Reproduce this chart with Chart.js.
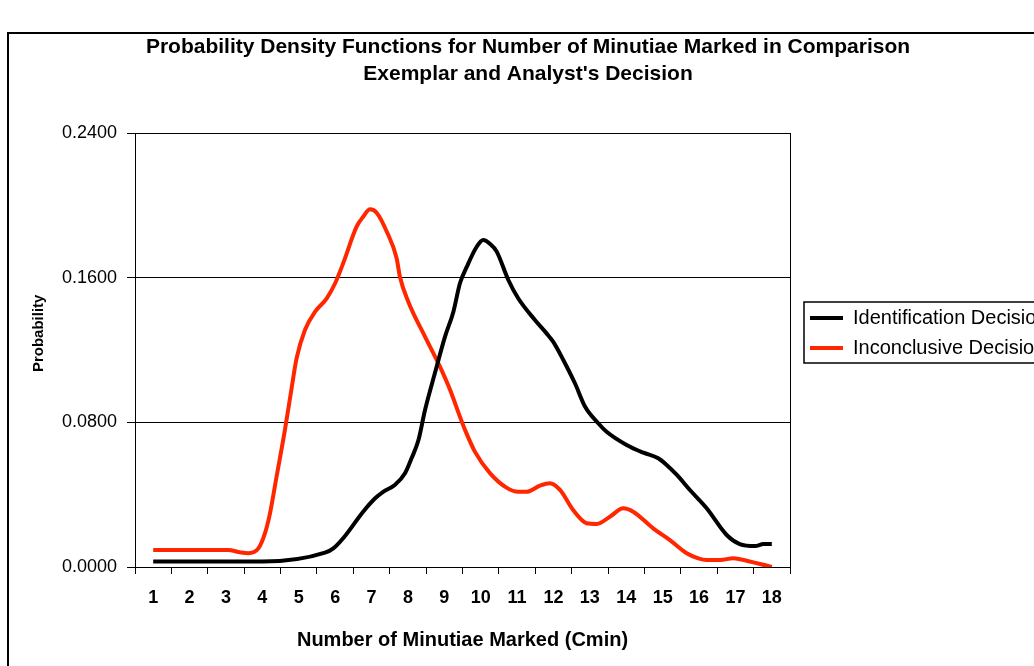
<!DOCTYPE html>
<html>
<head>
<meta charset="utf-8">
<script src="https://cdn.jsdelivr.net/npm/chart.js@4"></script>
<style>
  html, body { margin: 0; padding: 0; background: #fff; overflow: hidden; width: 1034px; height: 666px; }
  #frame { position: absolute; left: 7px; top: 32px; width: 1100px; height: 700px; border: 2px solid #000; box-sizing: border-box; }
  #wrap { position: absolute; left: 0; top: 0; width: 1040px; height: 666px; z-index: 2; }
</style>
</head>
<body>
<div id="frame"></div>
<div id="wrap"><canvas id="c"></canvas></div>
<script>
// Category tick labels on the x axis
const xCategories = [1, 2, 3, 4, 5, 6, 7, 8, 9, 10, 11, 12, 13, 14, 15, 16, 17, 18];
// Y axis ticks
const yTicks = [0, 0.08, 0.16, 0.24];

// Identification Decision curve
const identX = [1, 4, 5.72, 5.95, 6.22, 6.77, 7.10, 7.32, 7.64, 7.92, 8.10, 8.29, 8.47, 8.74, 9.02, 9.25, 9.43, 9.62, 9.89, 10.07, 10.26, 10.44, 10.76, 11.03, 11.49, 11.81, 11.99, 12.27, 12.59, 12.87, 13.23, 13.46, 14.01, 14.47, 14.88, 15.11, 15.39, 15.75, 16.21, 16.76, 17.12, 17.54, 17.77, 18.0];
const identY = [0.003, 0.003, 0.0079, 0.0103, 0.0159, 0.0306, 0.038, 0.0416, 0.0453, 0.0518, 0.0601, 0.0702, 0.0868, 0.1071, 0.1274, 0.1412, 0.1569, 0.1661, 0.1771, 0.1808, 0.1786, 0.1744, 0.1587, 0.1486, 0.1366, 0.1292, 0.1246, 0.1145, 0.1016, 0.0886, 0.0795, 0.0748, 0.0675, 0.0632, 0.0601, 0.0564, 0.0509, 0.0426, 0.0325, 0.0177, 0.0127, 0.0116, 0.0127, 0.0127];

// Inconclusive Decision curve
const inconX = [1, 3.06, 3.39, 3.61, 3.89, 4.07, 4.21, 4.39, 4.62, 4.81, 4.94, 5.17, 5.45, 5.77, 6.0, 6.22, 6.59, 6.77, 6.96, 7.14, 7.42, 7.69, 7.78, 8.01, 8.47, 8.88, 9.16, 9.43, 9.57, 9.84, 10.26, 10.71, 11.03, 11.26, 11.63, 11.9, 12.18, 12.54, 12.91, 13.19, 13.55, 13.92, 14.19, 14.74, 15.2, 15.66, 15.98, 16.21, 16.58, 16.94, 17.12, 18.0];
const inconY = [0.0094, 0.0094, 0.0081, 0.0076, 0.0103, 0.0186, 0.0297, 0.0499, 0.0758, 0.0997, 0.1154, 0.1311, 0.1412, 0.1486, 0.1569, 0.1679, 0.1882, 0.1937, 0.1978, 0.1959, 0.1854, 0.1707, 0.1605, 0.1467, 0.1274, 0.1108, 0.0979, 0.0831, 0.0758, 0.0638, 0.0518, 0.0439, 0.0416, 0.0416, 0.045, 0.0463, 0.0426, 0.0315, 0.0242, 0.0238, 0.0278, 0.0325, 0.0306, 0.0214, 0.0149, 0.0076, 0.0048, 0.0039, 0.0039, 0.0048, 0.0043, 0.0];

const seriesNames = ['Identification Decision', 'Inconclusive Decision'];

const FONT = '"Liberation Sans", Arial, sans-serif';
Chart.defaults.color = '#000';
Chart.defaults.font.family = FONT;

const toPoints = (xs, ys) => xs.map((x, i) => ({ x: x, y: ys[i] }));

const legendBox = {
  id: 'legendBox',
  afterDraw(chart) {
    const lg = chart.legend;
    if (!lg || !lg.legendHitBoxes || !lg.legendHitBoxes.length) return;
    const hb = lg.legendHitBoxes;
    const first = hb[0], last = hb[hb.length - 1];
    const ctx = chart.ctx;
    ctx.save();
    ctx.strokeStyle = '#000';
    ctx.lineWidth = 1.5;
    const l = first.left - 6, t = first.top - 6, b = last.top + last.height + 5;
    ctx.strokeRect(l, t, chart.width + 50 - l, b - t);
    ctx.restore();
  }
};

new Chart(document.getElementById('c'), {
  type: 'line',
  data: {
    datasets: [
      { label: seriesNames[0], data: toPoints(identX, identY), borderColor: '#000000', backgroundColor: '#000000', borderWidth: 4, pointRadius: 0, cubicInterpolationMode: 'monotone', fill: false },
      { label: seriesNames[1], data: toPoints(inconX, inconY), borderColor: '#FF2600', backgroundColor: '#FF2600', borderWidth: 4, pointRadius: 0, cubicInterpolationMode: 'monotone', fill: false }
    ]
  },
  options: {
    responsive: true,
    maintainAspectRatio: false,
    animation: false,
    layout: { padding: { left: 16, right: 0, top: 0, bottom: 0 } },
    plugins: {
      title: {
        display: true,
        text: ['Probability Density Functions for Number of Minutiae Marked in Comparison', "Exemplar and Analyst's Decision"],
        font: { size: 21, weight: 'bold', family: FONT, lineHeight: 27 / 21 },
        color: '#000',
        padding: { top: 33.5, bottom: 45.5 }
      },
      legend: {
        position: 'right',
        align: 'center',
        maxWidth: 240,
        labels: {
          usePointStyle: true,
          pointStyle: 'line',
          pointStyleWidth: 33,
          padding: 10,
          color: '#000',
          font: { size: 20, family: FONT }
        }
      },
      tooltip: { enabled: false }
    },
    scales: {
      x: {
        type: 'linear',
        min: xCategories[0] - 0.5,
        max: xCategories[xCategories.length - 1] + 0.5,
        afterBuildTicks(scale) {
          const t = [];
          xCategories.forEach(c => { t.push({ value: c - 0.5 }); t.push({ value: c }); });
          t.push({ value: xCategories[xCategories.length - 1] + 0.5 });
          scale.ticks = t;
        },
        afterFit(scale) { scale.height = 99; },
        ticks: {
          autoSkip: false, maxRotation: 0, minRotation: 0, padding: 13,
          color: '#000',
          font: { size: 18, weight: 'bold', family: FONT },
          callback: (v) => xCategories.includes(v) ? String(v) : ''
        },
        grid: {
          display: true, drawOnChartArea: false, drawTicks: true, tickLength: 7,
          tickColor: (ctx) => (ctx.tick && Number.isInteger(ctx.tick.value)) ? 'rgba(0,0,0,0)' : '#000',
          tickWidth: 1
        },
        border: { display: true, color: '#000', width: 1 },
        title: {
          display: true, text: 'Number of Minutiae Marked (Cmin)', color: '#000',
          font: { size: 20, weight: 'bold', family: FONT },
          padding: { top: 0, bottom: 14 }
        }
      },
      y: {
        type: 'linear',
        position: 'left',
        min: yTicks[0],
        max: yTicks[yTicks.length - 1],
        afterBuildTicks(scale) { scale.ticks = yTicks.map(v => ({ value: v })); },
        afterFit(scale) { scale.width = 119; },
        ticks: {
          padding: 10, color: '#000',
          font: { size: 18, family: FONT },
          callback: (v) => Number(v).toFixed(4)
        },
        grid: { display: true, color: '#000', lineWidth: 1, drawTicks: true, tickLength: 8, tickColor: '#000' },
        border: { display: true, color: '#000', width: 1 },
        title: {
          display: true, text: '        Probability', color: '#000',
          font: { size: 15, weight: 'bold', family: FONT },
          padding: { top: 14, bottom: 0 }
        }
      },
      y2: {
        type: 'linear',
        position: 'right',
        min: yTicks[0],
        max: yTicks[yTicks.length - 1],
        afterFit(scale) { scale.width = 10; },
        ticks: { display: false },
        grid: { display: false, drawOnChartArea: false, drawTicks: false },
        border: { display: true, color: '#000', width: 1 }
      }
    }
  },
  plugins: [legendBox]
});
</script>
</body>
</html>
